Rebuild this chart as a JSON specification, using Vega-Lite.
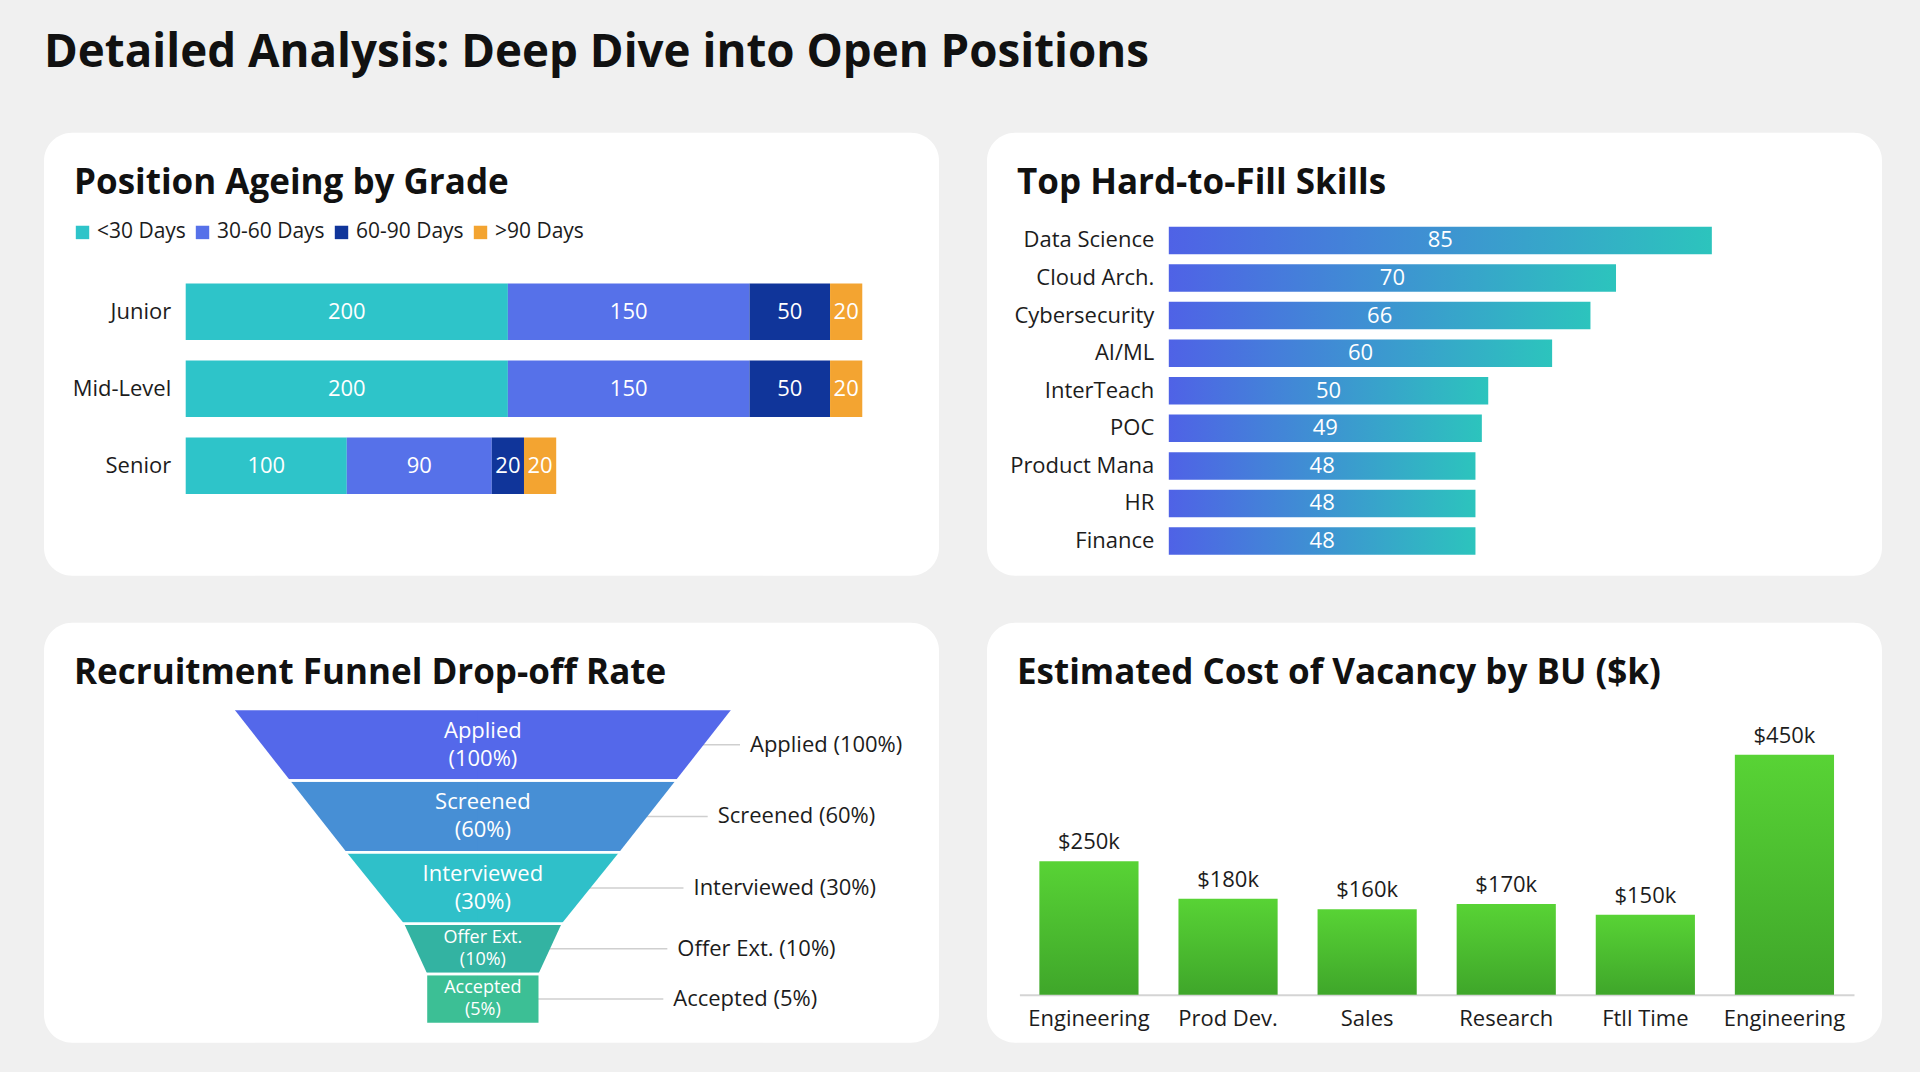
{
  "$schema": "https://vega.github.io/schema/vega-lite/v6.json",
  "background": "#f0f0f0",
  "padding": {"left": 44, "top": 29.7, "right": 38, "bottom": 30},
  "title": {
    "text": "Detailed Analysis: Deep Dive into Open Positions",
    "fontSize": 45.7,
    "fontWeight": "bold",
    "anchor": "start",
    "baseline": "alphabetic",
    "offset": 20.3,
    "color": "#111111"
  },
  "datasets": {
    "ageing": [
      {"grade": "Junior", "age": "<30 Days", "step": 1, "roles": 200},
      {"grade": "Junior", "age": "30-60 Days", "step": 2, "roles": 150},
      {"grade": "Junior", "age": "60-90 Days", "step": 3, "roles": 50},
      {"grade": "Junior", "age": ">90 Days", "step": 4, "roles": 20},
      {"grade": "Mid-Level", "age": "<30 Days", "step": 1, "roles": 200},
      {"grade": "Mid-Level", "age": "30-60 Days", "step": 2, "roles": 150},
      {"grade": "Mid-Level", "age": "60-90 Days", "step": 3, "roles": 50},
      {"grade": "Mid-Level", "age": ">90 Days", "step": 4, "roles": 20},
      {"grade": "Senior", "age": "<30 Days", "step": 1, "roles": 100},
      {"grade": "Senior", "age": "30-60 Days", "step": 2, "roles": 90},
      {"grade": "Senior", "age": "60-90 Days", "step": 3, "roles": 20},
      {"grade": "Senior", "age": ">90 Days", "step": 4, "roles": 20}
    ],
    "skills": [
      {"skill": "Data Science", "value": 85},
      {"skill": "Cloud Arch.", "value": 70},
      {"skill": "Cybersecurity", "value": 66},
      {"skill": "AI/ML", "value": 60},
      {"skill": "InterTeach", "value": 50},
      {"skill": "POC", "value": 49},
      {"skill": "Product Mana", "value": 48},
      {"skill": "HR", "value": 48},
      {"skill": "Finance", "value": 48}
    ],
    "funnel": [
      {"stage": "Applied", "depth": 0, "pct": 100},
      {"stage": "Applied", "depth": 1, "pct": 60},
      {"stage": "Screened", "depth": 1, "pct": 60},
      {"stage": "Screened", "depth": 2, "pct": 30},
      {"stage": "Interviewed", "depth": 2, "pct": 30},
      {"stage": "Interviewed", "depth": 3, "pct": 10},
      {"stage": "Offer Ext.", "depth": 3, "pct": 10},
      {"stage": "Offer Ext.", "depth": 3.7, "pct": 5},
      {"stage": "Accepted", "depth": 3.7, "pct": 5},
      {"stage": "Accepted", "depth": 4.4, "pct": 5}
    ],
    "cost": [
      {"slot": 1, "bu": "Engineering", "cost": 250},
      {"slot": 2, "bu": "Prod Dev.", "cost": 180},
      {"slot": 3, "bu": "Sales", "cost": 160},
      {"slot": 4, "bu": "Research", "cost": 170},
      {"slot": 5, "bu": "Ftll Time", "cost": 150},
      {"slot": 6, "bu": "Engineering", "cost": 450}
    ]
  },
  "resolve": {"scale": {"color": "independent"}, "legend": {"color": "independent"}},
  "vconcat": [
    {
      "resolve": {"scale": {"color": "independent"}, "legend": {"color": "independent"}},
      "hconcat": [
        {
          "width": 895,
          "height": 443,
          "title": {"text": "Position Ageing by Grade", "fontSize": 35, "fontWeight": "bold", "anchor": "start", "baseline": "alphabetic", "offset": -96, "dx": 30, "color": "#111111"},
          "data": {"name": "ageing"},
          "encoding": {
            "y": {
              "field": "grade", "type": "nominal", "sort": ["Junior", "Mid-Level", "Senior"],
              "scale": {"range": [150.7, 361.3], "paddingInner": 0.265, "paddingOuter": 0},
              "axis": {"title": null, "domain": false, "ticks": false, "grid": false, "offset": -141.7, "labelPadding": 15, "labelFontSize": 22, "labelColor": "#1c1c1c"}
            }
          },
          "layer": [
            {
              "mark": {"type": "bar"},
              "encoding": {
                "x": {"field": "roles", "type": "quantitative", "stack": "zero", "scale": {"domain": [0, 420], "range": [141.7, 866.6]}, "axis": null},
                "color": {
                  "field": "age", "type": "nominal",
                  "scale": {"domain": ["<30 Days", "30-60 Days", "60-90 Days", ">90 Days"], "range": ["#2ec4c9", "#5671e9", "#10359a", "#f3a431"]},
                  "legend": {"orient": "none", "legendX": 28, "legendY": 89, "direction": "horizontal", "title": null, "symbolType": "square", "symbolSize": 180, "symbolStrokeWidth": 0, "labelFontSize": 21, "labelColor": "#1c1c1c", "labelOffset": 4, "columnPadding": 6, "padding": 0, "labelLimit": 300}
                },
                "order": {"field": "step", "type": "quantitative"}
              }
            },
            {
              "transform": [
                {"stack": "roles", "groupby": ["grade"], "sort": [{"field": "step", "order": "ascending"}], "as": ["r0", "r1"]},
                {"fold": ["r0", "r1"], "as": ["edge", "pos"]},
                {"aggregate": [{"op": "mean", "field": "pos", "as": "mid"}], "groupby": ["grade", "age", "roles"]}
              ],
              "mark": {"type": "text", "color": "#ffffff", "fontSize": 22},
              "encoding": {
                "x": {"field": "mid", "type": "quantitative"},
                "text": {"field": "roles", "type": "quantitative"}
              }
            }
          ]
        },
        {
          "width": 895,
          "height": 443,
          "title": {"text": "Top Hard-to-Fill Skills", "fontSize": 35, "fontWeight": "bold", "anchor": "start", "baseline": "alphabetic", "offset": -96, "dx": 30, "color": "#111111"},
          "data": {"name": "skills"},
          "encoding": {
            "y": {
              "field": "skill", "type": "nominal",
              "sort": ["Data Science", "Cloud Arch.", "Cybersecurity", "AI/ML", "InterTeach", "POC", "Product Mana", "HR", "Finance"],
              "scale": {"range": [94, 422.1], "paddingInner": 0.27, "paddingOuter": 0},
              "axis": {"title": null, "domain": false, "ticks": false, "grid": false, "offset": -181.8, "labelPadding": 15, "labelFontSize": 22, "labelColor": "#1c1c1c"}
            }
          },
          "layer": [
            {
              "mark": {
                "type": "bar",
                "color": {"gradient": "linear", "x1": 0, "x2": 1, "y1": 0, "y2": 0, "stops": [{"offset": 0, "color": "#4f62e6"}, {"offset": 1, "color": "#2cc4bd"}]}
              },
              "encoding": {
                "x": {"field": "value", "type": "quantitative", "scale": {"domain": [0, 85], "range": [181.8, 756.8]}, "axis": null}
              }
            },
            {
              "transform": [
                {"stack": "value", "groupby": ["skill"], "as": ["v0", "v1"]},
                {"fold": ["v0", "v1"], "as": ["edge", "pos"]},
                {"aggregate": [{"op": "mean", "field": "pos", "as": "mid"}], "groupby": ["skill", "value"]}
              ],
              "mark": {"type": "text", "color": "#ffffff", "fontSize": 22},
              "encoding": {
                "x": {"field": "mid", "type": "quantitative"},
                "text": {"field": "value", "type": "quantitative"}
              }
            }
          ]
        }
      ],
      "spacing": 48
    },
    {
      "resolve": {"scale": {"color": "independent"}, "legend": {"color": "independent"}},
      "hconcat": [
        {
          "width": 895,
          "height": 420,
          "title": {"text": "Recruitment Funnel Drop-off Rate", "fontSize": 35, "fontWeight": "bold", "anchor": "start", "baseline": "alphabetic", "offset": -96, "dx": 30, "color": "#111111"},
          "data": {"name": "funnel"},
          "encoding": {
            "y": {"field": "depth", "type": "quantitative", "scale": {"domain": [0, 4.4], "range": [86.3, 401.3]}, "axis": null}
          },
          "resolve": {"scale": {"x": "independent"}},
          "layer": [
            {
              "transform": [
                {"aggregate": [{"op": "mean", "field": "depth", "as": "mid"}, {"op": "max", "field": "pct", "as": "share"}], "groupby": ["stage"]}
              ],
              "mark": {"type": "rule", "color": "#cfcfcf", "strokeWidth": 1.5},
              "encoding": {
                "y": {"field": "mid", "type": "quantitative", "axis": null},
                "x": {"field": "share", "type": "quantitative", "scale": {"domain": [5, 100], "range": [619.3, 696]}, "axis": null},
                "x2": {"datum": -200}
              }
            },
            {
              "mark": {"type": "area", "orient": "horizontal"},
              "encoding": {
                "x": {"field": "pct", "type": "quantitative", "stack": null, "scale": {"type": "sqrt", "domain": [-100, 100], "range": [687.7, 190]}, "axis": null},
                "x2": {"datum": -0.05},
                "color": {
                  "field": "stage", "type": "nominal",
                  "scale": {"domain": ["Applied", "Screened", "Interviewed", "Offer Ext.", "Accepted"], "range": ["#5468ea", "#478fd5", "#2fc0c9", "#33b3a2", "#3cbf95"]},
                  "legend": null
                }
              }
            },
            {
              "mark": {"type": "area", "orient": "horizontal"},
              "encoding": {
                "x": {"field": "pct", "type": "quantitative", "stack": null, "scale": {"type": "sqrt", "domain": [-100, 100], "range": [190, 687.7]}, "axis": null},
                "x2": {"datum": -0.05},
                "color": {"field": "stage", "type": "nominal", "legend": null}
              }
            },
            {
              "mark": {"type": "rule", "color": "#ffffff", "strokeWidth": 2.5},
              "encoding": {
                "x": {"datum": -110, "scale": {"domain": [-100, 100], "range": [190, 687.7]}, "axis": null},
                "x2": {"datum": 110}
              }
            },
            {
              "transform": [
                {"aggregate": [{"op": "mean", "field": "depth", "as": "mid"}, {"op": "max", "field": "pct", "as": "share"}], "groupby": ["stage"]}
              ],
              "mark": {
                "type": "text", "color": "#ffffff", "baseline": "middle",
                "text": {"expr": "[datum.stage, '(' + datum.share + '%)']"},
                "fontSize": {"expr": "datum.share <= 10 ? 18 : 22"},
                "lineHeight": {"expr": "datum.share <= 10 ? 22 : 28"},
                "dy": {"expr": "datum.share <= 10 ? -11 : -14"}
              },
              "encoding": {
                "y": {"field": "mid", "type": "quantitative", "axis": null},
                "x": {"datum": 0, "scale": {"domain": [-100, 100], "range": [190, 687.7]}, "axis": null}
              }
            },
            {
              "transform": [
                {"aggregate": [{"op": "mean", "field": "depth", "as": "mid"}, {"op": "max", "field": "pct", "as": "share"}], "groupby": ["stage"]}
              ],
              "mark": {
                "type": "text", "align": "left", "baseline": "middle", "dx": 10, "fontSize": 22, "color": "#1c1c1c",
                "text": {"expr": "datum.stage + ' (' + datum.share + '%)'"}
              },
              "encoding": {
                "y": {"field": "mid", "type": "quantitative", "axis": null},
                "x": {"field": "share", "type": "quantitative", "scale": {"domain": [5, 100], "range": [619.3, 696]}, "axis": null}
              }
            }
          ]
        },
        {
          "width": 895,
          "height": 420,
          "title": {"text": "Estimated Cost of Vacancy by BU ($k)", "fontSize": 35, "fontWeight": "bold", "anchor": "start", "baseline": "alphabetic", "offset": -96, "dx": 30, "color": "#111111"},
          "data": {"name": "cost"},
          "encoding": {
            "x": {
              "field": "slot", "type": "ordinal",
              "scale": {"range": [32.4, 867], "paddingInner": 0.287, "paddingOuter": 0.1435},
              "axis": {"title": null, "labels": false, "ticks": false, "grid": false, "offset": -48, "domainColor": "#d4d4d4", "domainWidth": 2}
            }
          },
          "layer": [
            {
              "mark": {
                "type": "bar",
                "color": {"gradient": "linear", "x1": 0, "x2": 0, "y1": 0, "y2": 1, "stops": [{"offset": 0, "color": "#58d335"}, {"offset": 1, "color": "#3fa62a"}]}
              },
              "encoding": {
                "y": {"field": "cost", "type": "quantitative", "scale": {"domain": [0, 450], "range": [372, 132]}, "axis": null}
              }
            },
            {
              "mark": {"type": "text", "fontSize": 22, "dy": -12, "baseline": "alphabetic", "color": "#1c1c1c", "text": {"expr": "'$' + datum.cost + 'k'"}},
              "encoding": {
                "y": {"field": "cost", "type": "quantitative"}
              }
            },
            {
              "mark": {"type": "text", "fontSize": 22, "dy": 31, "baseline": "alphabetic", "color": "#1c1c1c"},
              "encoding": {
                "y": {"datum": 0},
                "text": {"field": "bu", "type": "nominal"}
              }
            }
          ]
        }
      ],
      "spacing": 48
    }
  ],
  "spacing": 47,
  "config": {
    "font": "Open Sans",
    "view": {"fill": "#ffffff", "stroke": null, "cornerRadius": 28},
    "axis": {"labelFont": "Open Sans"},
    "legend": {"labelFont": "Open Sans"},
    "text": {"font": "Open Sans"}
  }
}
